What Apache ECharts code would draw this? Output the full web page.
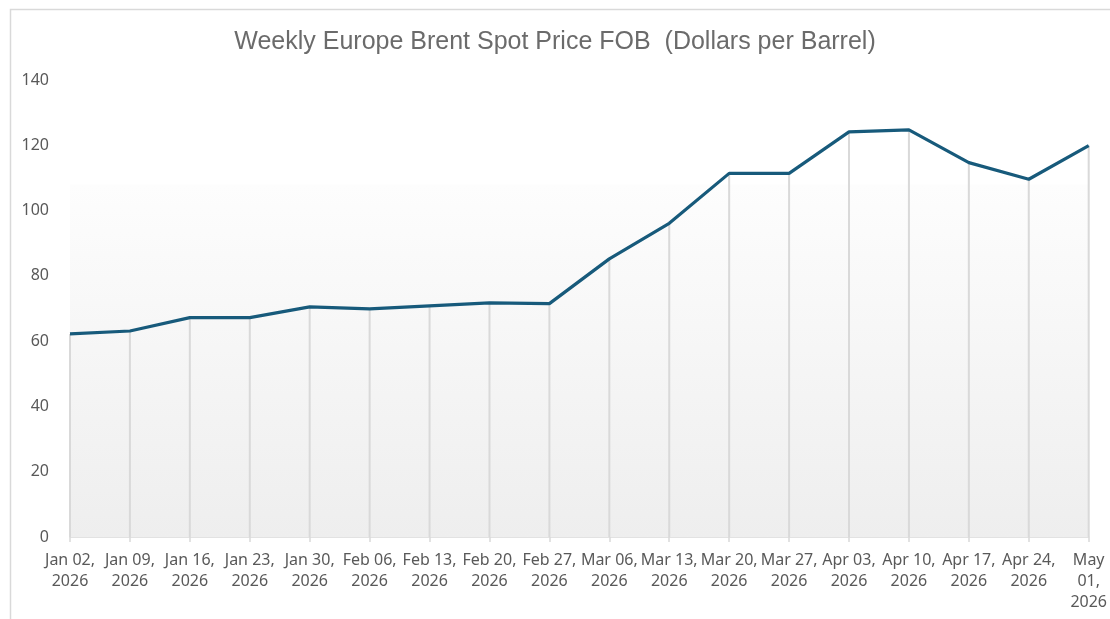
<!DOCTYPE html>
<html>
<head>
<meta charset="utf-8">
<script src="https://cdn.jsdelivr.net/npm/echarts@6/dist/echarts.min.js"></script>
<style>
  html, body { margin: 0; padding: 0; background: #fff; }
  #chart { width: 1110px; height: 619px; }
</style>
</head>
<body>
<div id="chart"></div>
<script>
// weekly dates (tick labels, already wrapped like the original)
const semanas = [
    'Jan 02,\n2026', 'Jan 09,\n2026', 'Jan 16,\n2026', 'Jan 23,\n2026', 'Jan 30,\n2026',
    'Feb 06,\n2026', 'Feb 13,\n2026', 'Feb 20,\n2026', 'Feb 27,\n2026',
    'Mar 06,\n2026', 'Mar 13,\n2026', 'Mar 20,\n2026', 'Mar 27,\n2026',
    'Apr 03,\n2026', 'Apr 10,\n2026', 'Apr 17,\n2026', 'Apr 24,\n2026', 'May\n01,\n2026'
];
// dollars per barrel
const precioBrent = [
    62.2, 63.1, 67.2, 67.2, 70.5, 69.9, 70.8, 71.7, 71.5,
    85.2, 96.1, 111.4, 111.4, 124.1, 124.7, 114.7, 109.6, 119.9
];
const yMin = 0;
const yMax = 140;
const yPaso = 20;
const limiteFondo = 108; // top of the grey plot fill

const gris = '#595959';

const initGrafico = () => {
    const myChart = echarts.init(document.getElementById('chart'));
    myChart.setOption({
        animation: false,
        backgroundColor: '#ffffff',
        textStyle: { fontFamily: '"Noto Sans", sans-serif' },
        title: {
            text: 'Weekly Europe Brent Spot Price FOB  (Dollars per Barrel)',
            left: 'center',
            top: 25,
            textStyle: {
                fontFamily: '"Liberation Sans Narrow", "Liberation Sans", sans-serif',
                fontSize: 25,
                fontWeight: 'normal',
                color: '#6b6b6b'
            }
        },
        graphic: [{
            type: 'rect',
            left: 8,
            top: 7,
            shape: { width: 1200, height: 700 },
            style: { fill: 'none', stroke: '#d9d9d9', lineWidth: 1.5 },
            silent: true
        }],
        grid: { left: 70, right: 20, top: 80, bottom: 82, containLabel: false },
        xAxis: {
            type: 'category',
            data: semanas,
            boundaryGap: false,
            axisLine: { lineStyle: { color: '#d9d9d9', width: 1.5 } },
            axisTick: { show: true, length: 5, lineStyle: { color: '#d9d9d9', width: 1.5 } },
            axisLabel: {
                interval: 0,
                color: gris,
                fontSize: 16,
                lineHeight: 21,
                margin: 13,
                align: 'center'
            },
            splitLine: { show: false }
        },
        yAxis: {
            type: 'value',
            min: yMin,
            max: yMax,
            interval: yPaso,
            axisLine: { show: false },
            axisTick: { show: false },
            splitLine: { show: false },
            axisLabel: { color: gris, fontSize: 16, margin: 21 }
        },
        series: [
            {
                // drop lines from each point to the axis
                type: 'bar',
                data: precioBrent,
                barWidth: 2,
                z: 2,
                itemStyle: { color: '#d9d9d9' },
                silent: true,
                markArea: {
                    silent: true,
                    itemStyle: {
                        color: new echarts.graphic.LinearGradient(0, 0, 0, 1, [
                            { offset: 0, color: '#fdfdfd' },
                            { offset: 1, color: '#eeeeee' }
                        ])
                    },
                    data: [[{ yAxis: yMin }, { yAxis: limiteFondo }]]
                }
            },
            {
                type: 'line',
                data: precioBrent,
                z: 3,
                symbol: 'none',
                lineStyle: { color: '#175a7b', width: 3.2 },
                silent: true
            }
        ]
    });
    myChart.resize();
};

window.addEventListener('load', () => {
    initGrafico();
});
</script>
</body>
</html>
